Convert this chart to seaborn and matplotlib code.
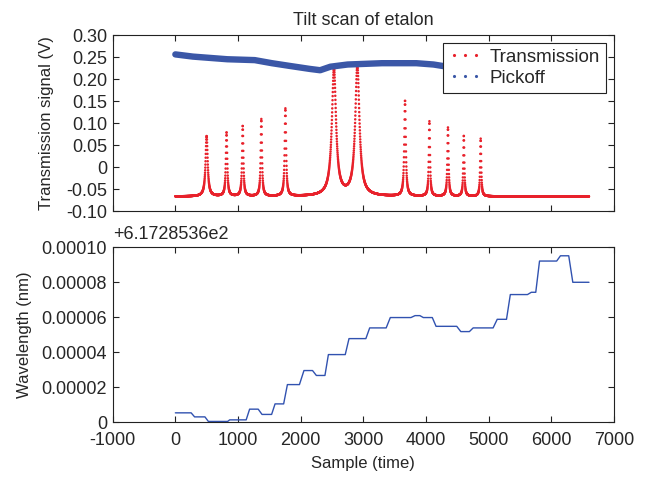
import numpy as np
import pandas as pd
import matplotlib
matplotlib.use("Agg")
import matplotlib.pyplot as plt
from matplotlib.lines import Line2D
from matplotlib.ticker import FuncFormatter, MultipleLocator
import seaborn as sns

# ---- etalon transmission peaks (sample index, peak value in V, half width in samples)
peak_centers = [499, 817, 1075, 1372, 1756, 2531, 2904, 3665, 4054, 4350, 4603, 4872]
peak_tops = [0.070, 0.078, 0.093, 0.108, 0.132, 0.220, 0.228, 0.150, 0.103, 0.089, 0.071, 0.064]
peak_widths = [20, 13, 12, 12, 13, 40, 40, 14, 11, 11, 10, 10]
transmission_floor = -0.067
n_samples = 6600

# ---- pickoff signal trend (sample index, V)
pickoff_x = [0, 280, 828, 1267, 1541, 1816, 2145, 2310, 2474, 2748, 3297, 3846, 4120, 4339, 5000, 6000, 6600]
pickoff_v = [0.256, 0.251, 0.245, 0.243, 0.236, 0.230, 0.223, 0.220, 0.228, 0.233, 0.236, 0.236, 0.233,
             0.228, 0.226, 0.225, 0.225]

# ---- wavemeter reading (sample index, nm)
wl_offset = 617.28536
wl_x = [0, 252, 307, 472, 527, 834, 867, 1130, 1185, 1322, 1383, 1536, 1591, 1728, 1788, 1980,
        2052, 2189, 2250, 2387, 2442, 2711, 2771, 3040, 3101, 3364, 3430, 3759, 3825, 3902,
        3957, 4100, 4160, 4490, 4555, 4692, 4752, 5070, 5136, 5284, 5345, 5619, 5680, 5751,
        5811, 6085, 6145, 6277, 6342, 6600]
wl_dev_e5 = [0.55, 0.55, 0.32, 0.32, 0.06, 0.06, 0.15, 0.15, 0.76, 0.76, 0.46, 0.46, 1.06, 1.06,
             2.16, 2.16, 2.96, 2.96, 2.68, 2.68, 3.87, 3.87, 4.78, 4.78, 5.39, 5.39, 5.98, 5.98,
             6.09, 6.09, 5.98, 5.98, 5.48, 5.48, 5.18, 5.18, 5.39, 5.39, 5.88, 5.88, 7.29, 7.29,
             7.42, 7.42, 9.20, 9.20, 9.50, 9.50, 7.99, 7.99]
wavelength_nm = [wl_offset + d * 1e-5 for d in wl_dev_e5]

RED = "#e8212b"
BLUE = "#3b57a7"
LINE_BLUE = "#3152b0"

sns.set_theme(style="ticks")
plt.rcParams["font.family"] = ["Liberation Sans", "DejaVu Sans"]
plt.rcParams["font.size"] = 13
plt.rcParams["axes.linewidth"] = 0.8
plt.rcParams["axes.edgecolor"] = "#222222"
plt.rcParams["axes.unicode_minus"] = False

fig = plt.figure(figsize=(6.45, 4.80), dpi=100)
ax1 = fig.add_axes([0.1747, 0.5604, 0.7773, 0.3666])
ax2 = fig.add_axes([0.1747, 0.1198, 0.7773, 0.3656])

# Transmission: Lorentzian (Airy) line shapes on a flat floor
samples = np.arange(0, n_samples + 1, 2)
signal = np.full(samples.shape, transmission_floor, dtype=float)
for c, top, w in zip(peak_centers, peak_tops, peak_widths):
    signal += (top - transmission_floor) * w ** 2 / ((samples - c) ** 2 + w ** 2)
trans_df = pd.DataFrame({"sample": samples, "signal": signal})
pick_df = pd.DataFrame({"sample": pickoff_x, "signal": pickoff_v})

sns.lineplot(data=pick_df, x="sample", y="signal", ax=ax1, color=BLUE, lw=4.6,
             estimator=None, sort=False, solid_joinstyle="round")
sns.scatterplot(data=trans_df, x="sample", y="signal", ax=ax1, color=RED, s=3.2,
                linewidth=0, edgecolor="none")

ax1.set_xlim(-1000, 7000)
ax1.set_ylim(-0.10, 0.30)
ax1.xaxis.set_major_locator(MultipleLocator(1000))
ax1.yaxis.set_major_locator(MultipleLocator(0.05))
ax1.yaxis.set_major_formatter(FuncFormatter(lambda v, p: "0" if abs(v) < 1e-9 else f"{v:.2f}"))
ax1.set_xticklabels([])
ax1.set_xlabel("")
ax1.set_ylabel("Transmission signal (V)", labelpad=9)
ax1.set_title("Tilt scan of etalon", fontsize=13, pad=7)

handles = [
    Line2D([], [], ls="none", marker=".", color=RED, markersize=2.5),
    Line2D([], [], ls="none", marker=".", color=BLUE, markersize=2.5),
]
leg = ax1.legend(handles, ["Transmission", "Pickoff"], loc="upper right",
                 bbox_to_anchor=(0.983, 0.953), borderaxespad=0, numpoints=3,
                 fancybox=False, framealpha=1, edgecolor="#222222", fontsize=13.5,
                 handlelength=1.8, handletextpad=0.4, borderpad=0.3, labelspacing=0.2)
leg.get_frame().set_linewidth(0.8)

# Wavelength record
wl_df = pd.DataFrame({"sample": wl_x, "dev": [w - wl_offset for w in wavelength_nm]})
sns.lineplot(data=wl_df, x="sample", y="dev", ax=ax2, color=LINE_BLUE, lw=1.0,
             estimator=None, sort=False)
ax2.set_xlim(-1000, 7000)
ax2.set_ylim(0, 0.0001)
ax2.xaxis.set_major_locator(MultipleLocator(1000))
ax2.yaxis.set_major_locator(MultipleLocator(0.00002))
ax2.yaxis.set_major_formatter(FuncFormatter(lambda v, p: "0" if abs(v) < 1e-12 else f"{v:.5f}"))
ax2.set_xlabel("Sample (time)", labelpad=5)
ax2.set_ylabel("Wavelength (nm)", labelpad=7)
ax2.text(0, 1.02, "+6.1728536e2", transform=ax2.transAxes, ha="left", va="bottom", fontsize=13)

for ax in (ax1, ax2):
    ax.tick_params(direction="in", length=4, width=0.8, top=True, right=True,
                   labelsize=13, pad=4, color="#222222")
    for s in ax.spines.values():
        s.set_visible(True)
ax2.tick_params(axis="x", pad=7)

fig.savefig("out.png", dpi=100)
